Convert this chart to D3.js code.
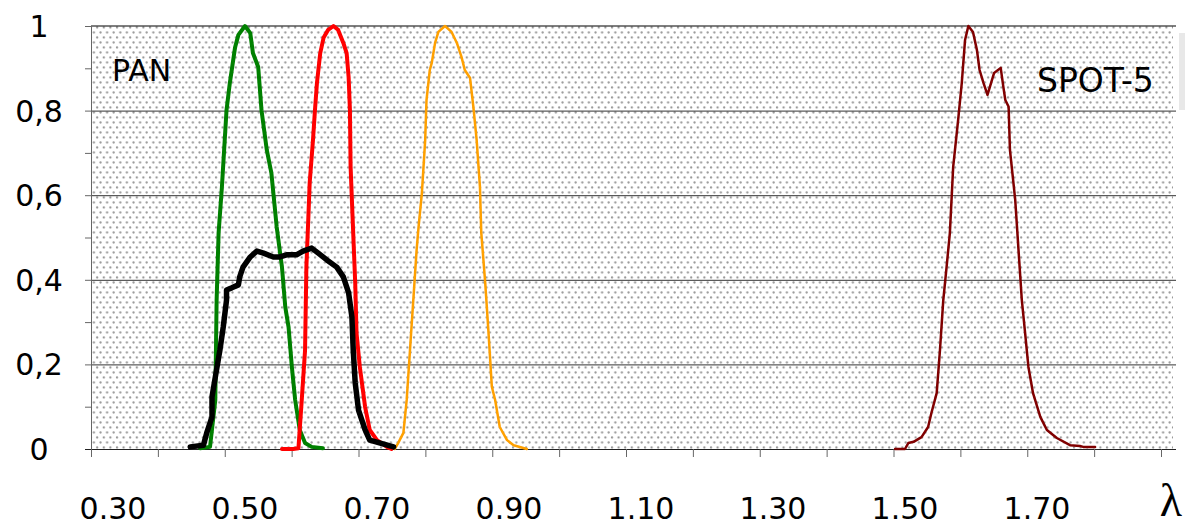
<!DOCTYPE html>
<html>
<head>
<meta charset="utf-8">
<script src="https://cdn.jsdelivr.net/npm/d3@7"></script>
<style>
  body { margin: 0; background: #fff; }
  svg { display: block; font-family: "DejaVu Sans", sans-serif; }
</style>
</head>
<body>
<svg id="chart" width="1185" height="527"></svg>
<script>
// spectral response curves, [wavelength (um), relative response]
const greenBand = [[0.432,0.002],[0.447,0.005],[0.455,0.116],[0.457,0.352],[0.460,0.511],[0.465,0.619],[0.472,0.801],
  [0.477,0.865],[0.485,0.950],[0.490,0.979],[0.500,1.0],[0.508,0.983],[0.512,0.936],[0.520,0.903],[0.525,0.801],
  [0.533,0.707],[0.540,0.652],[0.548,0.525],[0.556,0.430],[0.561,0.336],[0.566,0.288],[0.571,0.194],[0.576,0.116],
  [0.583,0.045],[0.591,0.014],[0.601,0.005],[0.618,0.002]];
const redBand = [[0.556,0],[0.573,0],[0.581,0.002],[0.586,0.116],[0.591,0.234],[0.593,0.430],[0.596,0.548],[0.598,0.629],
  [0.603,0.730],[0.606,0.801],[0.609,0.865],[0.614,0.936],[0.619,0.972],[0.626,0.991],[0.634,1.0],[0.641,0.991],
  [0.649,0.960],[0.654,0.936],[0.657,0.879],[0.659,0.801],[0.660,0.667],[0.663,0.548],[0.667,0.392],[0.669,0.274],
  [0.674,0.194],[0.682,0.099],[0.689,0.045],[0.700,0.021],[0.715,0.005],[0.722,0]];
const nirBand = [[0.727,0],[0.732,0.014],[0.740,0.038],[0.745,0.116],[0.750,0.234],[0.755,0.352],[0.760,0.470],[0.763,0.525],
  [0.768,0.605],[0.773,0.730],[0.775,0.825],[0.780,0.896],[0.783,0.913],[0.788,0.960],[0.793,0.986],[0.803,1.0],
  [0.813,0.986],[0.821,0.960],[0.828,0.927],[0.833,0.896],[0.841,0.877],[0.846,0.809],[0.851,0.730],[0.856,0.619],
  [0.858,0.511],[0.864,0.392],[0.869,0.274],[0.874,0.147],[0.879,0.116],[0.886,0.052],[0.897,0.021],[0.907,0.009],[0.927,0]];
const swirBand = [[1.485,0],[1.500,0],[1.505,0.014],[1.513,0.017],[1.525,0.028],[1.535,0.052],[1.540,0.085],[1.548,0.132],
  [1.553,0.234],[1.558,0.352],[1.563,0.430],[1.568,0.511],[1.573,0.667],[1.581,0.785],[1.586,0.865],[1.591,0.967],
  [1.596,1.0],[1.603,0.986],[1.609,0.943],[1.613,0.896],[1.619,0.865],[1.625,0.837],[1.635,0.889],[1.645,0.901],
  [1.649,0.856],[1.652,0.825],[1.657,0.809],[1.659,0.707],[1.667,0.589],[1.672,0.470],[1.677,0.352],[1.682,0.274],
  [1.687,0.194],[1.694,0.132],[1.705,0.076],[1.715,0.045],[1.730,0.026],[1.750,0.009],[1.765,0.007],[1.770,0.005],[1.788,0.005]];
const panBand = [[0.417,0.005],[0.437,0.009],[0.442,0.038],[0.450,0.076],[0.450,0.123],[0.455,0.170],[0.462,0.234],
  [0.467,0.288],[0.472,0.352],[0.472,0.376],[0.480,0.381],[0.490,0.388],[0.492,0.407],[0.497,0.430],[0.508,0.454],
  [0.518,0.468],[0.528,0.463],[0.543,0.454],[0.553,0.454],[0.563,0.459],[0.578,0.459],[0.588,0.468],[0.601,0.475],
  [0.611,0.463],[0.624,0.447],[0.639,0.430],[0.649,0.407],[0.657,0.369],[0.662,0.312],[0.664,0.234],[0.667,0.156],
  [0.672,0.092],[0.682,0.045],[0.689,0.021],[0.705,0.014],[0.725,0.005]];

const series = [
  { values: greenBand, color: "#008000", width: 4 },
  { values: redBand,   color: "#ff0000", width: 4 },
  { values: nirBand,   color: "#ffa000", width: 2.5 },
  { values: swirBand,  color: "#800000", width: 2.5 },
  { values: panBand,   color: "#000000", width: 5.5 }
];

const xLabels = [0.30, 0.50, 0.70, 0.90, 1.10, 1.30, 1.50, 1.70];
const yLabels = [0, 0.2, 0.4, 0.6, 0.8, 1];
const yGrid = [0.2, 0.4, 0.6, 0.8];

const svg = d3.select('#chart');
const plotL = 91, plotR = 1176, plotT = 26, plotB = 449;

// 0.30 sits at 113px and 1.70 at 1037px
const x = d3.scaleLinear().domain([0.30, 1.70]).range([113, 1037]);
const y = d3.scaleLinear().domain([0, 1]).range([plotB, plotT]);

// dotted background
const defs = svg.append('defs');
const pat = defs.append('pattern')
  .attr('id', 'dots')
  .attr('patternUnits', 'userSpaceOnUse')
  .attr('width', 6.6).attr('height', 10);
pat.append('rect').attr('width', 6.6).attr('height', 10).attr('fill', '#fff');
pat.append('circle').attr('cx', 1.5).attr('cy', 2.5).attr('r', 1.15).attr('fill', '#999');
pat.append('circle').attr('cx', 4.8).attr('cy', 7.5).attr('r', 1.15).attr('fill', '#999');

svg.append('rect')
  .attr('x', plotL).attr('y', plotT)
  .attr('width', plotR - plotL - 3).attr('height', plotB - plotT)
  .attr('fill', 'url(#dots)');

// grid lines
svg.append('g')
  .attr('transform', `translate(${plotL},0)`)
  .call(d3.axisLeft(y).tickValues(yGrid).tickSize(-(plotR - plotL)).tickFormat(''))
  .call(g => g.select('.domain').remove())
  .selectAll('.tick line').attr('stroke', '#333');

// top border
svg.append('line')
  .attr('x1', plotL).attr('x2', plotR)
  .attr('y1', y(1)).attr('y2', y(1))
  .attr('stroke', '#000').attr('stroke-width', 1.2);

// y axis with minor ticks
svg.append('g')
  .attr('transform', `translate(${plotL},0)`)
  .call(d3.axisLeft(y).ticks(10).tickSize(6).tickSizeOuter(0).tickFormat(''))
  .call(g => g.selectAll('line, path').attr('stroke', '#666'));

// x axis ticks
const tickStep = 66.875;
const xTicks = d3.range(17).map(i => x.invert(plotL + i * tickStep));
svg.append('g')
  .attr('transform', `translate(0,${plotB})`)
  .call(d3.axisBottom(x).tickValues(xTicks).tickSize(8).tickSizeOuter(0).tickFormat(''))
  .call(g => g.select('.domain').attr('d', `M${plotL - 6},0.5H${plotR}`).attr('stroke', '#222'))
  .call(g => g.selectAll('.tick line').attr('stroke', '#666'));

// curves
const line = d3.line().x(d => x(d[0])).y(d => y(d[1]));
svg.append('g')
  .selectAll('path')
  .data(series)
  .enter()
  .append('path')
  .attr('d', d => line(d.values))
  .attr('fill', 'none')
  .attr('stroke', d => d.color)
  .attr('stroke-width', d => d.width)
  .attr('stroke-linejoin', 'round')
  .attr('stroke-linecap', 'round');

// y labels
svg.append('g')
  .selectAll('text')
  .data(yLabels)
  .enter()
  .append('text')
  .attr('x', 39)
  .attr('y', d => y(d) + 11)
  .attr('text-anchor', 'middle')
  .attr('font-size', 30)
  .text(d => d === 0 || d === 1 ? String(d) : d.toFixed(1).replace('.', ','));

// x labels
svg.append('g')
  .selectAll('text')
  .data(xLabels)
  .enter()
  .append('text')
  .attr('x', d => x(d))
  .attr('y', 519)
  .attr('text-anchor', 'middle')
  .attr('font-size', 30)
  .text(d => d.toFixed(2));

// lambda
svg.append('text')
  .attr('x', 1171).attr('y', 516)
  .attr('text-anchor', 'middle')
  .attr('font-family', '"Liberation Serif", serif')
  .attr('font-size', 46)
  .text('λ');

// in-plot labels
svg.append('text').attr('x', 112).attr('y', 81).attr('font-size', 30).text('PAN');
svg.append('text').attr('x', 1037).attr('y', 92).attr('font-size', 33).text('SPOT-5');

// clipped legend box at the right edge
svg.append('rect')
  .attr('x', 1179).attr('y', 33)
  .attr('width', 10).attr('height', 77)
  .attr('fill', '#e8e8e8');
</script>
</body>
</html>
